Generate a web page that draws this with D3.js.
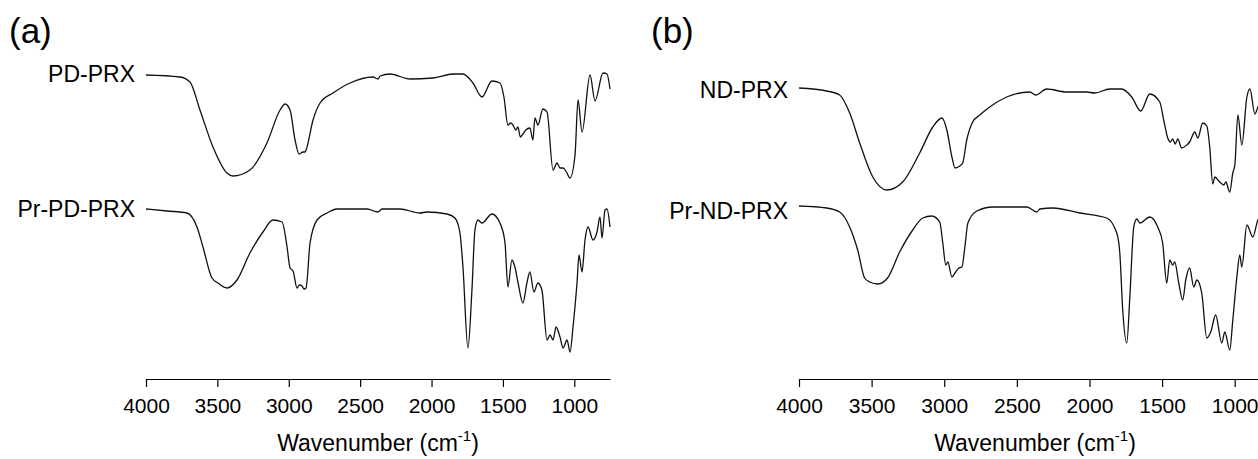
<!DOCTYPE html>
<html>
<head>
<meta charset="utf-8">
<script src="https://cdn.jsdelivr.net/npm/d3@7/dist/d3.min.js"></script>
<style>
  html, body { margin: 0; padding: 0; background: #fff; }
  svg { display: block; font-family: Arial, "Liberation Sans", sans-serif; }
  .tick text { font-size: 21px; fill: #000; }
  .domain, .tick line { stroke: #000; stroke-width: 1.2; }
</style>
</head>
<body>
<div class="container"></div>
<script>
// wavenumber (cm-1) / offset transmittance (a.u.)
const pdWave = [4000, 3762, 3692, 3622, 3531, 3433, 3391, 3272, 3153, 3061, 3026, 2991, 2956, 2928, 2900, 2886, 2879, 2830, 2781, 2690, 2571, 2410, 2375, 2360, 2291, 2151, 1990, 1850, 1780, 1710, 1647, 1577, 1521, 1493, 1465, 1445, 1430, 1410, 1395, 1378, 1360, 1340, 1311, 1290, 1276, 1255, 1220, 1191, 1149, 1121, 1100, 1079, 1055, 1030, 995, 974, 946, 890, 855, 799, 771, 750];
const pdT = [305, 303, 298, 270, 233, 207, 204, 210, 237, 270, 276, 270, 240, 226, 228, 228, 230, 260, 277, 287, 297, 303, 301, 304, 306, 301, 302, 306, 306, 297, 283, 299, 297, 283, 255, 257, 255, 250, 253, 243, 246, 250, 252, 240, 262, 255, 271, 268, 210, 217, 212, 212, 208, 202, 225, 280, 248, 305, 279, 307, 306, 291];

const prPdWave = [4000, 3853, 3713, 3643, 3601, 3538, 3496, 3433, 3363, 3272, 3181, 3111, 3047, 3012, 2991, 2970, 2942, 2925, 2907, 2893, 2879, 2851, 2802, 2732, 2662, 2452, 2375, 2347, 2221, 2081, 2032, 1892, 1836, 1801, 1780, 1745, 1717, 1696, 1675, 1647, 1577, 1521, 1486, 1465, 1437, 1416, 1395, 1360, 1332, 1311, 1283, 1255, 1227, 1191, 1170, 1149, 1128, 1100, 1079, 1051, 1030, 1009, 981, 967, 946, 925, 904, 869, 841, 820, 806, 785, 771, 750];
const prPdT = [171, 169, 167, 153, 133, 102, 97, 92, 100, 127, 148, 160, 158, 133, 112, 109, 92, 95, 94, 91, 92, 137, 160, 167, 171, 171, 168, 171, 171, 167, 168, 166, 162, 147, 113, 32, 90, 150, 160, 157, 166, 157, 138, 93, 120, 113, 98, 77, 97, 108, 88, 97, 90, 40, 45, 40, 53, 43, 32, 40, 28, 53, 97, 125, 108, 140, 153, 140, 148, 163, 142, 170, 171, 153];

const ndWave = [4000, 3809, 3720, 3651, 3582, 3492, 3396, 3286, 3169, 3079, 3016, 2982, 2947, 2926, 2893, 2873, 2845, 2804, 2755, 2687, 2570, 2411, 2370, 2294, 2157, 2019, 1964, 1861, 1778, 1709, 1647, 1585, 1516, 1489, 1461, 1444, 1427, 1410, 1392, 1365, 1330, 1310, 1275, 1254, 1220, 1192, 1172, 1151, 1137, 1103, 1075, 1061, 1034, 1013, 999, 978, 951, 916, 895, 861, 840, 800, 770, 750];
const ndT = [292, 289, 285, 267, 237, 203, 190, 198, 227, 253, 262, 250, 223, 212, 214, 217, 240, 258, 265, 273, 283, 288, 285, 291, 288, 288, 287, 291, 291, 283, 269, 286, 278, 260, 242, 238, 241, 236, 241, 232, 235, 238, 248, 242, 257, 254, 233, 196, 203, 198, 195, 198, 188, 207, 215, 265, 235, 283, 291, 266, 273, 280, 284, 270];

const prNdWave = [4000, 3809, 3720, 3651, 3596, 3548, 3513, 3458, 3390, 3307, 3217, 3148, 3086, 3031, 3010, 2989, 2975, 2947, 2926, 2899, 2878, 2858, 2837, 2775, 2665, 2431, 2362, 2341, 2253, 2067, 1881, 1812, 1791, 1771, 1743, 1722, 1695, 1674, 1653, 1585, 1530, 1496, 1468, 1447, 1427, 1413, 1385, 1358, 1337, 1310, 1282, 1261, 1227, 1192, 1165, 1131, 1089, 1068, 1034, 1013, 985, 965, 951, 916, 875, 840, 800, 750];
const prNdT = [174, 172, 168, 153, 130, 102, 98, 96, 102, 128, 150, 162, 164, 158, 137, 115, 118, 103, 107, 112, 113, 133, 157, 169, 173, 173, 168, 171, 172, 167, 162, 147, 127, 70, 37, 83, 153, 161, 157, 163, 153, 137, 97, 120, 115, 118, 97, 80, 100, 112, 93, 100, 87, 42, 48, 65, 37, 48, 30, 60, 103, 125, 113, 155, 143, 160, 165, 155];

const xTicks = [4000, 3500, 3000, 2500, 2000, 1500, 1000];
const xDomain = [4000, 750];

const panels = [
  {
    tag: '(a)', tagX: 9, left: 146, right: 610,
    series: [
      { name: 'PD-PRX', wave: pdWave, t: pdT, dy: 7 },
      { name: 'Pr-PD-PRX', wave: prPdWave, t: prPdT, dy: 8 }
    ]
  },
  {
    tag: '(b)', tagX: 651, left: 799, right: 1271,
    series: [
      { name: 'ND-PRX', wave: ndWave, t: ndT, dy: 10 },
      { name: 'Pr-ND-PRX', wave: prNdWave, t: prNdT, dy: 13 }
    ]
  }
];

const width = 1258;
const height = 459;
const axisY = 379;

const svg = d3.select('.container')
  .append('svg')
  .attr('width', width)
  .attr('height', height);

svg.append('rect')
  .attr('width', width)
  .attr('height', height)
  .attr('fill', '#fff');

// offsets are arbitrary units above the axis
const yScale = d3.scaleLinear()
  .domain([0, 320])
  .range([axisY + 1, 60]);

panels.forEach(p => {
  const xScale = d3.scaleLinear()
    .domain(xDomain)
    .range([p.left, p.right]);

  const g = svg.append('g');

  g.append('text')
    .attr('x', p.tagX)
    .attr('y', 43)
    .style('font-size', '35px')
    .text(p.tag);

  // Spectra
  const line = d3.line()
    .x(d => xScale(d[0]))
    .y(d => yScale(d[1]))
    .curve(d3.curveMonotoneX);

  p.series.forEach(s => {
    const pts = s.wave.map((w, i) => [w, s.t[i]]);
    g.append('path')
      .datum(pts)
      .attr('fill', 'none')
      .attr('stroke', '#111')
      .attr('stroke-width', 1.3)
      .attr('stroke-linejoin', 'round')
      .attr('d', line);

    g.append('text')
      .attr('x', xScale(xDomain[0]) - 11)
      .attr('y', yScale(s.t[0]) + s.dy)
      .attr('text-anchor', 'end')
      .style('font-size', '23px')
      .text(s.name);
  });

  // X axis
  const axis = g.append('g')
    .attr('transform', `translate(0, ${axisY})`)
    .call(d3.axisBottom(xScale)
      .tickValues(xTicks)
      .tickFormat(d3.format('d'))
      .tickSize(8)
      .tickPadding(11)
      .tickSizeOuter(0));
  axis.selectAll('.tick text').style('font-family', 'Arial, "Liberation Sans", sans-serif');

  const label = g.append('text')
    .attr('x', (p.left + p.right) / 2)
    .attr('y', 451)
    .attr('text-anchor', 'middle')
    .style('font-size', '23px');
  label.append('tspan').text('Wavenumber (cm');
  label.append('tspan').attr('dy', -10).style('font-size', '15px').text('-1');
  label.append('tspan').attr('dy', 10).text(')');
});
</script>
</body>
</html>
